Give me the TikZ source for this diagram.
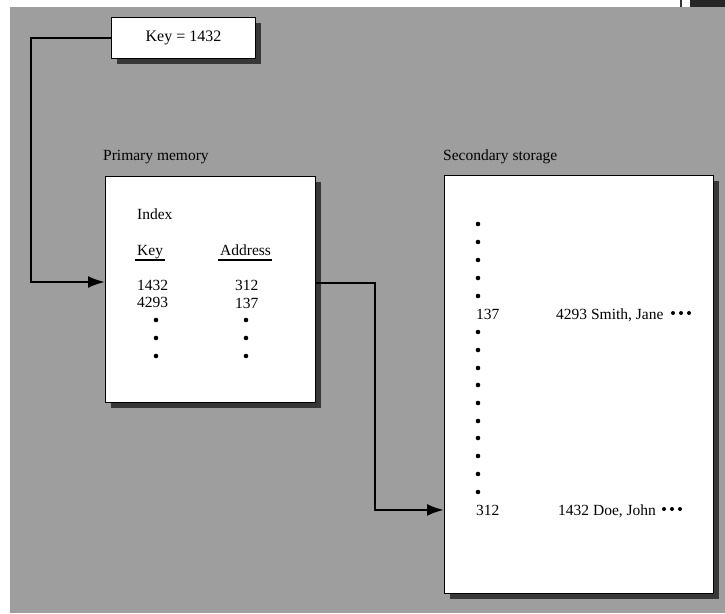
\documentclass[tikz,border=0pt]{standalone}
\usepackage{fontspec}
\setmainfont{Liberation Serif}
\usepackage{xcolor}
\definecolor{scanGray}{gray}{0.62}
\definecolor{shadeGray}{gray}{0.22}
\usetikzlibrary{arrows.meta,positioning,shadows}

\tikzset{
  card/.style={draw=black, line width=1pt, fill=white, inner sep=0pt, anchor=north west,
    drop shadow={shadow xshift=5pt, shadow yshift=-5pt, opacity=1, fill=shadeGray}},
  lbl/.style={font=\fontsize{15.5}{18}\selectfont, inner sep=0pt, anchor=base west},
  wire/.style={line width=2.4pt, -{Latex[length=17pt,width=12pt]}},
}

\begin{document}
\begin{tikzpicture}[x=1pt, y=-1pt]
  \useasboundingbox (0,0) rectangle (725,613);
  % ---------- scanned page background ----------
  \fill[scanGray] (10,7) rectangle (725,613);
  \fill[black!85] (690,0) rectangle (725,7);
  \draw[black!80, line width=1.2pt] (681,0) -- (681,7);

  % ---------- search key ----------
  \node[card, minimum width=144pt, minimum height=41pt,
        font=\fontsize{16}{19}\selectfont] (keybox) at (111,17) {Key = 1432};

  % ---------- primary memory: the index ----------
  \node[lbl] (primlbl) at (103,160) {Primary memory};
  \node[card, minimum width=210pt, minimum height=226pt] (primary) at (105,176) {};
  \begin{scope}
    \node[lbl] (idx) at (137,219) {Index};
    \node[lbl] (hkey) at (137,255) {Key};
    \node[lbl] (haddr) at (220,255) {Address};
    \draw[line width=1.1pt] (135,260) -- (165,260);
    \draw[line width=1.1pt] (218,260) -- (272,260);
    \node[lbl] (k1432) at (137,290) {1432};
    \node[lbl] (k4293) at (137,307) {4293};
    \node[lbl] (a312) at (235,290) {312};
    \node[lbl] (a137) at (235,308) {137};
    \foreach \y in {320,338,356} {
      \fill (156,\y) circle (2.3);
      \fill (246,\y) circle (2.3);
    }
  \end{scope}

  % ---------- secondary storage: the records ----------
  \node[lbl] (seclbl) at (443,160) {Secondary storage};
  \node[card, minimum width=269pt, minimum height=418pt] (secondary) at (444,175) {};
  \begin{scope}
    \foreach \y in {224,242,260,278,296,332,350,368,385,403,421,438,456,474,492}
      \fill (478,\y) circle (2.3);
    \node[lbl] (r137) at (476,319) {137};
    \node[lbl] (rec4293) at (556,319) {4293 Smith, Jane};
    \foreach \x in {673,681,689} \fill (\x,313) circle (2);
    \node[lbl] (r312) at (476,515) {312};
    \node[lbl] (rec1432) at (558,515) {1432 Doe, John};
    \foreach \x in {664,672,680} \fill (\x,509) circle (2);
  \end{scope}

  % ---------- connectors ----------
  \coordinate (bendA) at (31,282);
  \coordinate (bendB) at (375,283);
  \draw[wire] (keybox.west) -| (bendA) -- (bendA -| primary.west);
  \draw[wire] (bendB -| primary.east) -- (bendB) |- (secondary.west |- r312.west);
\end{tikzpicture}
\end{document}
